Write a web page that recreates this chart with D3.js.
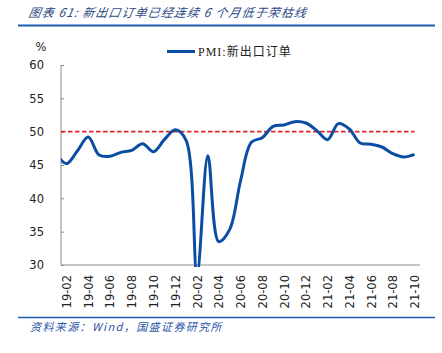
<!DOCTYPE html>
<html>
<head>
<meta charset="utf-8">
<script src="https://cdn.jsdelivr.net/npm/d3@7"></script>
<style>
  body { margin: 0; background: #fff; }
  svg { display: block; }
</style>
</head>
<body>
<div class="canvas"></div>
<script>
// monthly categories, 19-01 .. 21-10
const months = [
  "19-01","19-02","19-03","19-04","19-05","19-06","19-07","19-08","19-09","19-10","19-11","19-12",
  "20-01","20-02","20-03","20-04","20-05","20-06","20-07","20-08","20-09","20-10","20-11","20-12",
  "21-01","21-02","21-03","21-04","21-05","21-06","21-07","21-08","21-09","21-10"
];
// PMI: new export orders
const exportOrders = [
  46.9, 45.2, 47.1, 49.2, 46.5, 46.3, 46.9, 47.2, 48.2, 47.0, 48.8, 50.3,
  48.7, 28.7, 46.4, 33.5, 35.3, 42.6, 48.4, 49.1, 50.8, 51.0, 51.5, 51.3,
  50.2, 48.8, 51.2, 50.4, 48.3, 48.1, 47.7, 46.7, 46.2, 46.6
];
const yTicks = [30, 35, 40, 45, 50, 55, 60];
const threshold = 50;

const width = 442;
const height = 353;
const marginLeft = 61;
const marginRight = 22;
const marginTop = 65;
const marginBottom = 87;

const blue = "#0a4da2";
const red = "#e0262a";

const x = d3.scaleLinear()
  .domain([0.5, months.length - 0.5])
  .range([marginLeft, width - marginRight]);

const y = d3.scaleLinear()
  .domain([30, 60])
  .range([height - marginBottom - 1, marginTop]);

const svg = d3.select(".canvas").append("svg")
  .attr("width", width)
  .attr("height", height);

// title
svg.append("text")
  .attr("x", 28).attr("y", 17)
  .attr("font-family", "Noto Sans CJK SC")
  .attr("font-size", 12)
  .attr("font-style", "italic")
  .attr("letter-spacing", 1.1)
  .attr("fill", "#2b4a86")
  .attr("transform", "skewX(-10) translate(3,0)")
  .text("图表 61:  新出口订单已经连续 6 个月低于荣枯线");

svg.append("line")
  .attr("x1", 18).attr("x2", 435)
  .attr("y1", 25.5).attr("y2", 25.5)
  .attr("stroke", "#1d5eb0").attr("stroke-width", 2);

// y axis
const gy = svg.append("g")
  .attr("transform", `translate(${marginLeft},0)`)
  .call(d3.axisLeft(y).tickValues(yTicks).tickSize(-3).tickPadding(17));
gy.select(".domain").attr("stroke", "#8c8c8c").attr("d", `M0,${y(60)}V${y(30)}`);
gy.selectAll(".tick line").attr("stroke", "#8c8c8c");
gy.selectAll(".tick text")
  .attr("font-family", "DejaVu Sans")
  .attr("font-size", 11.5)
  .attr("fill", "#222");

svg.append("text")
  .attr("x", 41).attr("y", 51)
  .attr("text-anchor", "middle")
  .attr("font-family", "DejaVu Sans")
  .attr("font-size", 11.5)
  .attr("fill", "#222")
  .text("%");

// x axis
const labelIdx = d3.range(1, months.length, 2);
const gx = svg.append("g")
  .attr("transform", `translate(0,${y(30)})`)
  .call(d3.axisBottom(x).tickValues(labelIdx).tickFormat(i => months[i]).tickSize(0).tickPadding(0));
gx.select(".domain").attr("stroke", "#8c8c8c").attr("d", `M${marginLeft},0H${width - marginRight}`);
gx.selectAll(".tick text")
  .attr("font-family", "DejaVu Sans")
  .attr("font-size", 11.5)
  .attr("fill", "#222")
  .attr("text-anchor", "end")
  .attr("dy", "0.35em")
  .attr("transform", "translate(0,10) rotate(-90)");

// threshold
svg.append("line")
  .attr("x1", marginLeft).attr("x2", x(months.length - 1))
  .attr("y1", y(threshold)).attr("y2", y(threshold))
  .attr("stroke", red).attr("stroke-width", 1.8)
  .attr("stroke-dasharray", "4.5,2.5");

// clip to plot area
svg.append("clipPath").attr("id", "plot")
  .append("rect")
  .attr("x", marginLeft).attr("y", marginTop - 10)
  .attr("width", width - marginRight - marginLeft)
  .attr("height", y(30) - marginTop + 12);

const line = d3.line()
  .x((d, i) => x(i))
  .y(d => y(d))
  .curve(d3.curveCatmullRom.alpha(0.5));

svg.append("path")
  .datum(exportOrders)
  .attr("clip-path", "url(#plot)")
  .attr("fill", "none")
  .attr("stroke", blue)
  .attr("stroke-width", 3)
  .attr("stroke-linejoin", "round")
  .attr("d", line);

// legend
svg.append("line")
  .attr("x1", 167).attr("x2", 195)
  .attr("y1", 51.5).attr("y2", 51.5)
  .attr("stroke", blue).attr("stroke-width", 3);
svg.append("text")
  .attr("x", 198).attr("y", 56)
  .attr("font-family", "Liberation Serif, Noto Sans CJK SC")
  .attr("font-size", 12)
  .attr("letter-spacing", 1)
  .attr("fill", "#222")
  .text("PMI:新出口订单");

// source
svg.append("line")
  .attr("x1", 18).attr("x2", 435)
  .attr("y1", 317.5).attr("y2", 317.5)
  .attr("stroke", "#1d5eb0").attr("stroke-width", 1.5);
svg.append("text")
  .attr("x", 30).attr("y", 331)
  .attr("font-family", "Noto Sans CJK SC")
  .attr("font-size", 11)
  .attr("font-style", "italic")
  .attr("letter-spacing", 1.4)
  .attr("fill", "#2a56a8")
  .text("资料来源：Wind，国盛证券研究所");
</script>
</body>
</html>
